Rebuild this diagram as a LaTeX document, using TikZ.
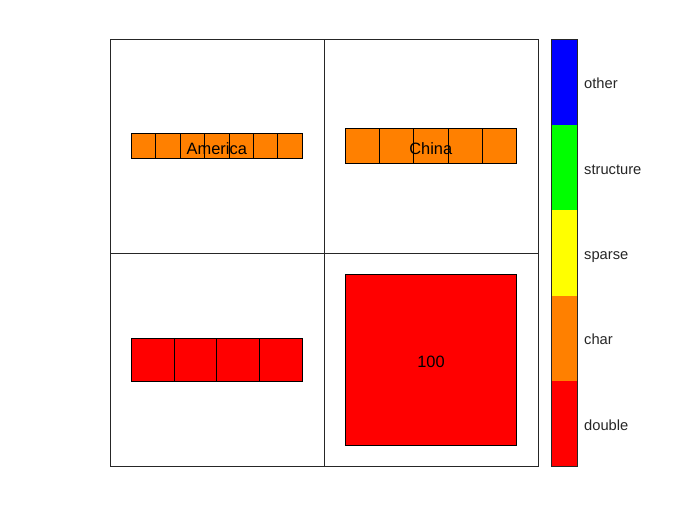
\documentclass[tikz,border=0pt]{standalone}
\usepackage{fontspec}
\setmainfont{Liberation Sans}
\definecolor{mOrange}{rgb}{1,0.5,0}
\definecolor{mRed}{rgb}{1,0,0}
\definecolor{mYellow}{rgb}{1,1,0}
\definecolor{mGreen}{rgb}{0,1,0}
\definecolor{mBlue}{rgb}{0,0,1}
\definecolor{axgray}{rgb}{0.15,0.15,0.15}
\begin{document}
\begin{tikzpicture}[x=1pt,y=-1pt,
  frame/.style={draw=axgray,line width=0.8pt},
  cell/.style={draw=black,line width=0.8pt},
  intext/.style={inner sep=0pt,anchor=base,font=\fontsize{16.4}{19}\selectfont,text=black},
  cblabel/.style={inner sep=0pt,anchor=base west,font=\fontsize{14.7}{17}\selectfont,text=axgray}]
\useasboundingbox (0,0) rectangle (700,525);
\fill[white] (0,0) rectangle (700,525);
% panels
\draw[frame] (110.5,39.5) rectangle (324.5,253);
\draw[frame] (324.5,39.5) rectangle (538.5,253);
\draw[frame] (110.5,253) rectangle (324.5,466);
\draw[frame] (324.5,253) rectangle (538.5,466);
% America: 7 orange cells
\foreach \i in {0,...,6}
  \draw[cell,fill=mOrange] ({131.3+\i*24.43},133.3) rectangle ({131.3+(\i+1)*24.43},158);
\node[intext] (america) at (216.8,154) {America};
% China: 5 orange cells
\foreach \i in {0,...,4}
  \draw[cell,fill=mOrange] ({345.3+\i*34.2},128.3) rectangle ({345.3+(\i+1)*34.2},163.3);
\node[intext] (china) at (430.8,154) {China};
% bottom-left: 4 red cells
\foreach \i in {0,...,3}
  \draw[cell,fill=mRed] ({131.3+\i*42.75},338.3) rectangle ({131.3+(\i+1)*42.75},381.3);
% bottom-right: one red square
\draw[cell,fill=mRed] (345.3,274.3) rectangle (516.3,445.3);
\node[intext] (hundred) at (431,367.7) {100};
% colorbar
\fill[mRed] (551.3,380.7) rectangle (577.3,466.3);
\fill[mOrange] (551.3,295.7) rectangle (577.3,380.7);
\fill[mYellow] (551.3,210) rectangle (577.3,295.7);
\fill[mGreen] (551.3,125) rectangle (577.3,210);
\fill[mBlue] (551.3,39.3) rectangle (577.3,125);
\draw[frame] (551.3,39.3) rectangle (577.3,466.3);
\node[cblabel] (lother) at (584,88.5) {other};
\node[cblabel] (lstruct) at (584,174) {structure};
\node[cblabel] (lsparse) at (584,259) {sparse};
\node[cblabel] (lchar) at (584,344.5) {char};
\node[cblabel] (ldouble) at (584,430) {double};
\end{tikzpicture}
\end{document}
